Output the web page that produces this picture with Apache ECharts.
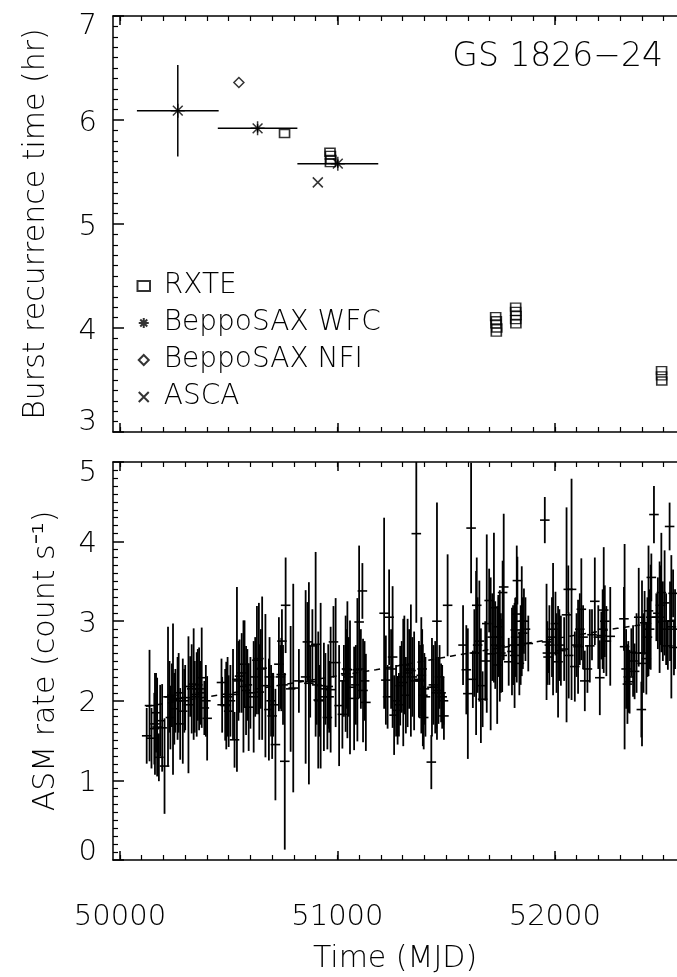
<!DOCTYPE html>
<html><head><meta charset="utf-8">
<script src="https://cdn.jsdelivr.net/npm/echarts@6/dist/echarts.min.js"></script>
<style>html,body{margin:0;padding:0;background:#fff}#c{width:677px;height:977px}</style>
</head><body><div id="c"></div>
<script>
// ---------- data ----------
const xMajorTicks = [50000, 51000, 52000];
const xMinorTicks = [50000,50100,50200,50300,50400,50500,50600,50700,50800,50900,51000,51100,51200,51300,51400,51500,51600,51700,51800,51900,52000,52100,52200,52300,52400,52500];

// top panel: burst recurrence time (hr)
const rxte = [[50757,5.87],[50966,5.69],[50968,5.66],[50970,5.62],[50968,5.59],
  [51728,4.11],[51731,4.07],[51729,4.04],[51733,4.00],[51731,3.96],
  [51820,4.20],[51820,4.16],[51822,4.12],[51820,4.08],[51821,4.04],
  [52491,3.59],[52491,3.54],[52492,3.49]];
const wfc = [[50266,6.09],[50633,5.92],[51002,5.58]];
const wfcXErr = [188, 183, 186];
const wfcYErr = [0.44, 0.04, 0.04];
const nfi = [[50547,6.36]];
const asca = [[50910,5.40]];

// bottom panel: ASM rate [MJD, rate, error]
const asmPoints = [
 [50123,1.56,0.35],[50136,1.94,0.70],[50145,1.53,0.38],[50161,1.71,0.64],[50171,1.67,0.62],
 [50179,1.29,0.30],[50194,1.66,0.55],[50205,1.18,0.60],[50221,2.05,0.88],[50232,1.79,0.40],
 [50239,2.07,0.40],[50244,2.02,0.95],[50255,2.00,0.40],[50265,2.03,0.52],[50277,1.71,0.45],
 [50289,1.87,0.66],[50300,2.04,0.41],[50315,1.95,0.86],[50323,2.18,0.38],[50330,2.15,0.56],
 [50339,2.21,0.70],[50353,2.08,0.53],[50364,2.15,0.52],[50376,2.29,0.63],[50388,1.91,0.34],
 [50401,1.78,0.53],
 [50158,1.65,0.45],[50166,1.85,0.50],[50185,1.75,0.45],[50228,2.05,0.45],[50250,1.90,0.45],
 [50270,2.10,0.50],[50296,2.00,0.40],[50344,2.05,0.45],[50358,2.20,0.45],[50370,2.10,0.40],
 [50395,2.00,0.45],
 [50467,2.23,0.30],[50470,1.95,0.35],[50489,1.94,0.55],[50500,1.87,0.45],[50520,2.08,0.57],
 [50527,1.51,0.35],[50538,2.27,1.16],[50550,2.31,0.46],[50568,2.18,0.83],[50573,2.46,0.55],
 [50580,2.13,0.56],[50592,1.92,0.55],[50615,2.05,0.70],[50630,2.51,0.68],[50641,2.11,0.60],
 [50484,1.95,0.45],[50495,2.05,0.50],[50508,2.00,0.45],[50545,2.25,0.50],[50560,2.35,0.50],
 [50586,2.20,0.45],[50600,2.10,0.45],[50622,2.30,0.50],[50648,2.40,0.50],
 [50639,2.53,0.70],[50654,2.41,0.90],[50669,2.19,0.90],[50685,1.89,0.64],[50688,2.30,0.50],
 [50700,1.81,0.54],[50715,1.45,0.70],[50731,2.46,0.59],[50742,2.33,0.46],[50745,2.75,0.40],
 [50758,1.24,1.11],[50762,3.20,0.60],[50785,2.15,0.79],[50797,2.16,1.31],[50823,2.25,0.40],
 [50854,2.30,1.09],[50862,2.74,0.50],[50869,2.22,1.27],[50875,2.24,0.45],[50885,2.69,0.46],
 [50900,2.71,1.16],[50912,2.01,0.86],[50923,2.19,1.04],[50938,2.05,0.68],[50954,1.79,0.40],
 [50958,2.18,0.53],[50969,2.14,0.79],[50982,2.74,0.45],[50992,2.48,0.81],[51008,1.94,0.76],
 [51023,1.83,0.43],[51038,2.34,0.73],[51046,2.39,0.86],[51058,2.17,0.84],[51077,2.03,0.65],
 [51092,2.39,0.90],[51100,2.99,0.96],[51115,3.38,0.35],[51118,2.13,0.65],[51131,1.98,0.61],
 [50695,2.00,0.45],[50705,1.95,0.40],[50738,2.30,0.40],[50750,2.20,0.50],[50905,2.20,0.50],
 [50916,2.00,0.45],[50945,2.15,0.45],[50962,2.05,0.45],[51030,2.25,0.45],[51042,2.40,0.50],
 [51052,2.30,0.50],[51085,2.20,0.50],[51108,2.40,0.50],[51125,2.25,0.50],
 [51215,3.10,1.20],[51223,2.26,0.56],[51231,2.05,0.40],[51238,3.05,0.60],[51254,2.55,0.89],
 [51261,1.82,0.50],[51277,1.88,0.43],[51289,2.19,0.50],[51303,2.23,0.80],[51308,2.45,0.62],
 [51315,2.07,0.48],[51323,2.35,0.68],[51338,2.38,0.83],[51353,2.25,0.62],[51363,4.10,1.12],
 [51375,2.27,0.48],[51386,2.32,0.73],[51393,2.07,0.64],[51397,1.79,0.40],[51405,2.05,0.50],
 [51432,1.23,0.34],[51435,2.17,0.62],[51450,2.17,0.58],[51458,3.00,1.49],[51465,2.13,0.42],
 [51477,2.10,0.37],[51488,2.00,0.30],[51490,1.81,0.30],[51507,3.20,0.64],
 [51247,2.40,0.50],[51270,2.00,0.45],[51283,1.95,0.40],[51296,2.30,0.45],[51330,2.40,0.50],
 [51345,2.30,0.50],[51380,2.25,0.45],[51390,2.40,0.50],[51400,2.15,0.45],[51442,2.20,0.50],
 [51455,2.10,0.45],[51470,2.30,0.40],[51482,2.05,0.40],
 [51578,2.70,0.50],[51593,2.39,0.56],[51600,2.09,0.82],[51615,4.17,0.82],[51623,2.27,0.36],
 [51638,2.60,1.03],[51641,3.20,0.60],[51653,2.75,0.76],[51660,2.19,0.72],[51668,2.02,0.35],
 [51687,2.97,1.12],[51698,3.26,0.40],[51705,2.59,0.96],[51720,3.17,0.94],[51735,2.45,0.74],
 [51740,2.93,0.40],[51747,2.69,0.70],[51758,2.57,0.46],[51760,3.36,0.40],[51765,3.43,0.92],
 [51788,2.49,0.30],[51803,2.62,0.55],[51815,2.57,0.66],[51818,2.89,0.40],[51825,3.09,0.86],
 [51828,3.51,0.30],[51837,2.47,0.40],[51848,3.00,0.69],[51858,3.00,0.41],[51878,2.72,0.35],
 [51630,2.60,0.55],[51645,2.70,0.60],[51680,2.50,0.50],[51712,2.80,0.55],[51726,2.70,0.55],
 [51742,2.80,0.50],[51752,2.60,0.50],[51808,2.70,0.50],[51820,2.80,0.50],[51843,2.70,0.50],
 [51853,2.85,0.45],[51865,2.90,0.40],
 [51954,4.27,0.29],[51962,2.74,0.73],[51969,2.55,0.20],[51992,2.90,0.83],[52003,2.97,0.40],
 [52015,2.49,0.70],[52028,2.63,0.44],[52043,2.65,0.40],[52054,3.08,1.35],[52062,3.40,0.30],
 [52064,2.57,0.54],[52077,3.40,1.39],[52092,2.43,0.44],[52107,2.68,0.59],[52122,3.15,0.64],
 [52138,2.25,0.38],[52150,2.40,0.30],[52161,2.69,0.46],[52171,2.83,0.32],[52184,3.25,0.55],
 [52207,2.29,0.47],[52214,2.82,0.30],[52225,3.14,0.79],[52237,2.75,0.44],[52255,2.81,0.62],
 [51966,2.60,0.40],[51975,2.70,0.50],[51987,2.80,0.50],[52008,2.60,0.50],[52021,2.70,0.45],
 [52100,2.70,0.40],[52115,2.90,0.45],[52130,2.80,0.40],[52200,2.80,0.40],[52220,2.90,0.50],
 [52230,3.00,0.45],
 [52318,3.03,0.40],[52321,2.68,1.29],[52334,2.21,0.50],[52344,2.24,0.40],[52352,2.61,0.30],
 [52367,2.37,0.35],[52386,3.05,0.62],[52398,1.89,0.35],[52401,2.47,1.04],[52413,2.98,0.40],
 [52421,2.53,0.45],[52431,3.13,0.82],[52441,3.05,0.66],[52444,3.55,0.30],[52456,4.34,0.36],
 [52467,3.05,0.30],[52482,3.05,0.70],[52490,3.36,0.75],[52505,3.23,0.66],[52520,2.69,0.30],
 [52528,4.19,0.30],[52536,2.93,0.90],[52544,3.35,0.30],[52548,2.67,0.35],
 [52328,2.40,0.50],[52338,2.30,0.45],[52360,2.50,0.45],[52376,2.60,0.50],[52408,2.60,0.50],
 [52426,2.80,0.50],[52436,2.90,0.50],[52474,3.10,0.45],[52486,3.20,0.50],[52497,3.00,0.50],
 [52512,2.90,0.45],[52530,3.00,0.50],[52553,2.90,0.50]
];
const asmHalfBin = 22; // days
const asmTrend = [[50120,1.93],[50450,2.07],[51177,2.39],[51521,2.56],[51911,2.74],[52287,2.91],[52562,3.02]];

// ---------- chart ----------
const FONT = 'DejaVu Sans';
const INK = '#000';
const xMin = 49968, xMax = 52562;
const chart = echarts.init(document.getElementById('c'), null, {renderer:'canvas'});

function xAxisPair(gridIndex, position, showLabels) {
  const major = {
    type:'value', gridIndex, position, min:xMin, max:xMax,
    axisLine:{show:true, onZero:false, lineStyle:{color:INK, width:1.5}},
    axisTick:{show:true, inside:true, length:9, customValues:xMajorTicks, lineStyle:{color:INK, width:1.5}},
    axisLabel:{show:showLabels, customValues:xMajorTicks, formatter:(v)=>String(v),
      color:INK, fontSize:29, fontFamily:FONT, fontWeight:200, margin:43},
    splitLine:{show:false}
  };
  const minor = {
    type:'value', gridIndex, position, min:xMin, max:xMax,
    axisLine:{show:false, onZero:false},
    axisTick:{show:true, inside:true, length:5, customValues:xMinorTicks, lineStyle:{color:INK, width:1.2}},
    axisLabel:{show:false}, splitLine:{show:false}
  };
  return [major, minor];
}
function yAxisDef(gridIndex, min, max, name, nameGap, loPad, hiPad) {
  return {
    type:'value', gridIndex, position:'left', min, max, interval:1,
    name, nameLocation:'middle', nameGap, nameRotate:90,
    nameTextStyle:{color:INK, fontSize:30, fontFamily:FONT, fontWeight:200},
    axisLine:{show:true, onZero:false, lineStyle:{color:INK, width:1.5}},
    axisTick:{show:true, inside:true, length:11, lineStyle:{color:INK, width:1.5}},
    minorTick:{show:true, splitNumber:10, length:5, lineStyle:{color:INK, width:1.2}},
    axisLabel:{color:INK, fontSize:29, fontFamily:FONT, fontWeight:200, margin:16,
      formatter:(v)=> v===min ? '{lo|'+v+'}' : (v===max ? '{hi|'+v+'}' : '{n|'+v+'}'),
      rich:{
        lo:{fontSize:29, fontFamily:FONT, fontWeight:200, color:INK, padding:[0,0,loPad,0]},
        hi:{fontSize:29, fontFamily:FONT, fontWeight:200, color:INK, padding:[hiPad,0,0,0]},
        n:{fontSize:29, fontFamily:FONT, fontWeight:200, color:INK, padding:[6,0,0,0]}
      }},
    splitLine:{show:false}, minorSplitLine:{show:false}
  };
}

const xAxes = [].concat(
  xAxisPair(0,'bottom',false), xAxisPair(0,'top',false),
  xAxisPair(1,'bottom',true), xAxisPair(1,'top',false)
);
xAxes[4].name = 'Time (MJD)';
xAxes[4].nameLocation = 'middle';
xAxes[4].nameGap = 84;
xAxes[4].nameTextStyle = {color:INK, fontSize:30, fontFamily:FONT, fontWeight:200};

const openStyle = {color:'none', borderColor:INK, borderWidth:1.5};
const SYM_RECT = 'path://M0,0L10,0L10,8L0,8Z';
const SYM_AST = 'path://M0,5L10,5M5,0L5,10M1.5,1.5L8.5,8.5M8.5,1.5L1.5,8.5';
const SYM_DIAM = 'path://M5,0L10,5L5,10L0,5Z';
const SYM_X = 'path://M0,0L10,10M10,0L0,10';

function lineEl(a, b, w) {
  return {type:'line', shape:{x1:a[0], y1:a[1], x2:b[0], y2:b[1]}, style:{stroke:INK, lineWidth:w}};
}

const option = {
  animation:false,
  backgroundColor:'#fff',
  textStyle:{fontFamily:FONT, color:INK},
  grid:[
    {left:113, top:16, width:566, height:416},
    {left:113, top:462, width:566, height:398}
  ],
  xAxis: xAxes,
  yAxis: [
    yAxisDef(0, 3, 7, 'Burst recurrence time (hr)', 62, 20, 20),
    yAxisDef(1, 0, 5, 'ASM rate (count s⁻¹)', 52, 16, 22)
  ],
  legend:{
    orient:'vertical', left:130, top:267, itemWidth:24, itemHeight:10, itemGap:9,
    textStyle:{fontSize:28, fontFamily:FONT, fontWeight:200, color:INK, padding:[0,0,0,3]},
    data:['RXTE','BeppoSAX WFC','BeppoSAX NFI','ASCA'],
    selectedMode:false
  },
  graphic:[{
    type:'text', right:14, top:41,
    style:{text:'GS 1826−24', font:'200 33px "DejaVu Sans"', fill:INK}
  }],
  series:[
    {
      name:'wfcErr', type:'custom', xAxisIndex:0, yAxisIndex:0,
      data: wfc.map((p,i)=>[p[0], p[1], wfcXErr[i], wfcYErr[i]]),
      renderItem:(params, api)=>{
        const x=api.value(0), y=api.value(1), ex=api.value(2), ey=api.value(3);
        return {type:'group', children:[
          lineEl(api.coord([x-ex,y]), api.coord([x+ex,y]), 1.5),
          lineEl(api.coord([x,y-ey]), api.coord([x,y+ey]), 1.5)
        ]};
      }, z:2
    },
    {name:'RXTE', type:'scatter', xAxisIndex:0, yAxisIndex:0, data:rxte,
      symbol:SYM_RECT, symbolSize:[10,8], itemStyle:openStyle, z:3},
    {name:'BeppoSAX WFC', type:'scatter', xAxisIndex:0, yAxisIndex:0, data:wfc,
      symbol:SYM_AST, symbolSize:14, itemStyle:openStyle, z:3},
    {name:'BeppoSAX NFI', type:'scatter', xAxisIndex:0, yAxisIndex:0, data:nfi,
      symbol:SYM_DIAM, symbolSize:10, itemStyle:openStyle, z:3},
    {name:'ASCA', type:'scatter', xAxisIndex:0, yAxisIndex:0, data:asca,
      symbol:SYM_X, symbolSize:10, itemStyle:openStyle, z:3},
    {
      name:'asm', type:'custom', xAxisIndex:4, yAxisIndex:1, clip:true,
      data: asmPoints,
      renderItem:(params, api)=>{
        const x=api.value(0), y=api.value(1), e=api.value(2);
        const top=Math.min(y+e, 5), bot=Math.max(y-e, 0);
        return {type:'group', children:[
          lineEl(api.coord([x,bot]), api.coord([x,top]), 1.8),
          lineEl(api.coord([x-asmHalfBin,y]), api.coord([x+asmHalfBin,y]), 1.6)
        ]};
      }, z:2
    },
    {
      name:'trend', type:'line', xAxisIndex:4, yAxisIndex:1, data:asmTrend,
      showSymbol:false, symbol:'none', lineStyle:{color:INK, width:1.5, type:[6,5]}, z:1
    }
  ]
};
chart.setOption(option);
</script>
</body></html>
